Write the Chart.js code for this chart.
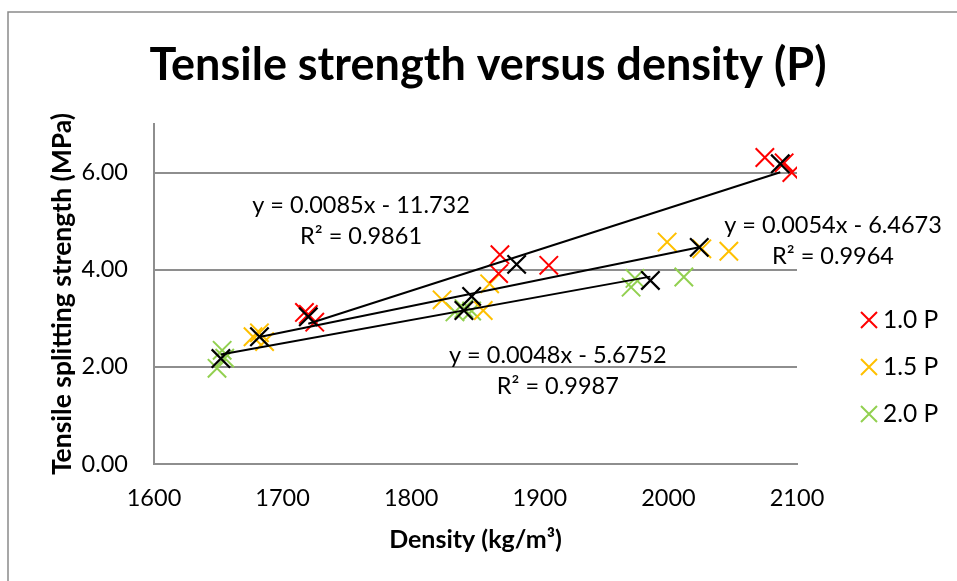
<!DOCTYPE html>
<html>
<head>
<meta charset="utf-8">
<title>Tensile strength versus density (P)</title>
<script src="https://cdn.jsdelivr.net/npm/chart.js@4"></script>
<style>
  html, body { margin: 0; padding: 0; background: #fff; }
  #wrap { width: 957px; height: 581px; }
</style>
</head>
<body>
<div id="wrap"><canvas id="chart"></canvas></div>
<script>
const seriesNames = ['1.0 P', '1.5 P', '2.0 P']
const seriesColors = ['#FF0000', '#FFC000', '#92D050']

// individual specimens, density in kg/m3, strength in MPa
const densityRed = [1717, 1720, 1725, 1869, 1868, 1907, 2075, 2090, 2096]
const strengthRed = [3.12, 3.08, 2.92, 4.31, 3.92, 4.09, 6.31, 6.20, 6.00]
const densityYellow = [1677, 1682, 1686, 1824, 1861, 1856, 1999, 2026, 2047]
const strengthYellow = [2.62, 2.70, 2.52, 3.38, 3.71, 3.16, 4.57, 4.43, 4.38]
const densityGreen = [1649, 1653, 1655, 1834, 1841, 1847, 1971, 1974, 2012]
const strengthGreen = [1.97, 2.34, 2.18, 3.13, 3.20, 3.15, 3.64, 3.82, 3.85]

// group averages (black crosses)
const meanDensityRed = [1720, 1882, 2087]
const meanStrengthRed = [3.03, 4.11, 6.18]
const meanDensityYellow = [1682, 1847, 2024]
const meanStrengthYellow = [2.62, 3.45, 4.46]
const meanDensityGreen = [1652, 1841, 1986]
const meanStrengthGreen = [2.17, 3.16, 3.78]

// linear trendlines through the averages
const slopes = [0.0085, 0.0054, 0.0048]
const intercepts = [-11.732, -6.4673, -5.6752]
const rSquared = [0.9861, 0.9964, 0.9987]

const densityTicks = [1600, 1700, 1800, 1900, 2000, 2100]
const strengthTicks = [0, 2, 4, 6]

// where the trendline equations sit, in axis units
const equationAnchors = [[1761, 5.33], [2128, 4.92], [1914, 2.24]]

const FONT = 'Lato, "Liberation Sans", sans-serif'
const GRID = '#8e8e8e'

function points(xs, ys) {
  return xs.map((x, i) => ({ x, y: ys[i] }))
}

const groups = [
  { x: densityRed, y: strengthRed, mx: meanDensityRed, my: meanStrengthRed },
  { x: densityYellow, y: strengthYellow, mx: meanDensityYellow, my: meanStrengthYellow },
  { x: densityGreen, y: strengthGreen, mx: meanDensityGreen, my: meanStrengthGreen },
]

const datasets = []
groups.forEach((g, i) => {
  datasets.push({
    label: seriesNames[i],
    data: points(g.x, g.y),
    borderColor: seriesColors[i],
    backgroundColor: seriesColors[i],
    pointStyle: 'crossRot',
    pointRadius: 13,
    pointHoverRadius: 13,
    pointBorderWidth: 2,
    order: 2,
  })
  const ends = [g.mx[0], g.mx[g.mx.length - 1]]
  datasets.push({
    label: 'Linear (' + seriesNames[i] + ')',
    data: ends.map(x => ({ x, y: slopes[i] * x + intercepts[i] })),
    showLine: true,
    borderColor: '#000',
    borderWidth: 2,
    pointRadius: 0,
    pointHoverRadius: 0,
    order: 1,
  })
  datasets.push({
    label: 'Average ' + seriesNames[i],
    data: points(g.mx, g.my),
    borderColor: '#000',
    backgroundColor: '#000',
    pointStyle: 'crossRot',
    pointRadius: 13,
    pointHoverRadius: 13,
    pointBorderWidth: 2.25,
    order: 0,
  })
})

const decorations = {
  id: 'decorations',
  beforeDraw(chart) {
    const ctx = chart.ctx
    ctx.save()
    ctx.strokeStyle = '#8a8a8a'
    ctx.lineWidth = 1.5
    ctx.beginPath()
    ctx.moveTo(8, chart.height)
    ctx.lineTo(8, 12)
    ctx.lineTo(chart.width, 12)
    ctx.stroke()
    ctx.restore()
  },
  afterDatasetsDraw(chart) {
    const { ctx, scales: { x, y } } = chart
    ctx.save()
    ctx.fillStyle = '#000'
    ctx.font = '23.5px ' + FONT
    ctx.textAlign = 'center'
    ctx.textBaseline = 'middle'
    equationAnchors.forEach(([ax, ay], i) => {
      const px = x.getPixelForValue(ax)
      const py = y.getPixelForValue(ay)
      ctx.fillText('y = ' + slopes[i] + 'x - ' + Math.abs(intercepts[i]), px, py)
      ctx.fillText('R² = ' + rSquared[i], px, py + 31)
    })
    ctx.restore()
  },
  afterDraw(chart) {
    const ctx = chart.ctx
    ctx.save()
    ctx.fillStyle = '#000'
    ctx.textAlign = 'center'
    ctx.textBaseline = 'alphabetic'
    ctx.font = 'bold 45px ' + FONT
    ctx.fillText('Tensile strength versus density (P)', 488, 80)

    // legend, coloured series only
    ctx.textAlign = 'left'
    ctx.textBaseline = 'middle'
    ctx.font = '24.5px ' + FONT
    seriesNames.forEach((name, i) => {
      const cy = 320 + i * 47
      ctx.strokeStyle = seriesColors[i]
      ctx.lineWidth = 2
      ctx.beginPath()
      ctx.moveTo(861, cy - 8)
      ctx.lineTo(877, cy + 8)
      ctx.moveTo(861, cy + 8)
      ctx.lineTo(877, cy - 8)
      ctx.stroke()
      ctx.fillStyle = '#000'
      ctx.fillText(name, 883, cy)
    })
    ctx.restore()
  },
}

Chart.defaults.font.family = FONT

new Chart(document.getElementById('chart'), {
  type: 'scatter',
  data: { datasets },
  plugins: [decorations],
  options: {
    responsive: true,
    maintainAspectRatio: false,
    animation: false,
    layout: {
      padding: { top: 124, right: 160, bottom: 0, left: 0 },
    },
    plugins: {
      legend: { display: false },
      title: { display: false },
      tooltip: { enabled: false },
    },
    scales: {
      x: {
        type: 'linear',
        min: 1600,
        max: 2100,
        afterBuildTicks: axis => {
          axis.ticks = densityTicks.map(value => ({ value }))
        },
        afterFit: axis => {
          axis.height = 117
        },
        grid: {
          display: false,
        },
        border: {
          color: GRID,
          width: 2,
        },
        ticks: {
          padding: 12,
          color: '#000',
          font: { size: 23.5 },
          callback: value => String(value),
        },
        title: {
          display: true,
          text: 'Density (kg/m³)',
          color: '#000',
          font: { size: 25, weight: 'bold' },
          padding: { top: 0, bottom: 26 },
        },
      },
      y: {
        min: 0,
        max: 7,
        afterBuildTicks: axis => {
          axis.ticks = strengthTicks.map(value => ({ value }))
        },
        afterFit: axis => {
          axis.width = 154
        },
        grid: {
          color: GRID,
          lineWidth: 2,
          drawTicks: false,
        },
        border: {
          color: GRID,
          width: 2,
        },
        ticks: {
          padding: 26,
          color: '#000',
          font: { size: 23.5 },
          callback: value => value.toFixed(2),
        },
        title: {
          display: true,
          text: 'Tensile splitting strength (MPa)',
          color: '#000',
          font: { size: 26.5, weight: 'bold' },
          padding: { top: 47, bottom: 0 },
        },
      },
    },
  },
})
</script>
</body>
</html>
